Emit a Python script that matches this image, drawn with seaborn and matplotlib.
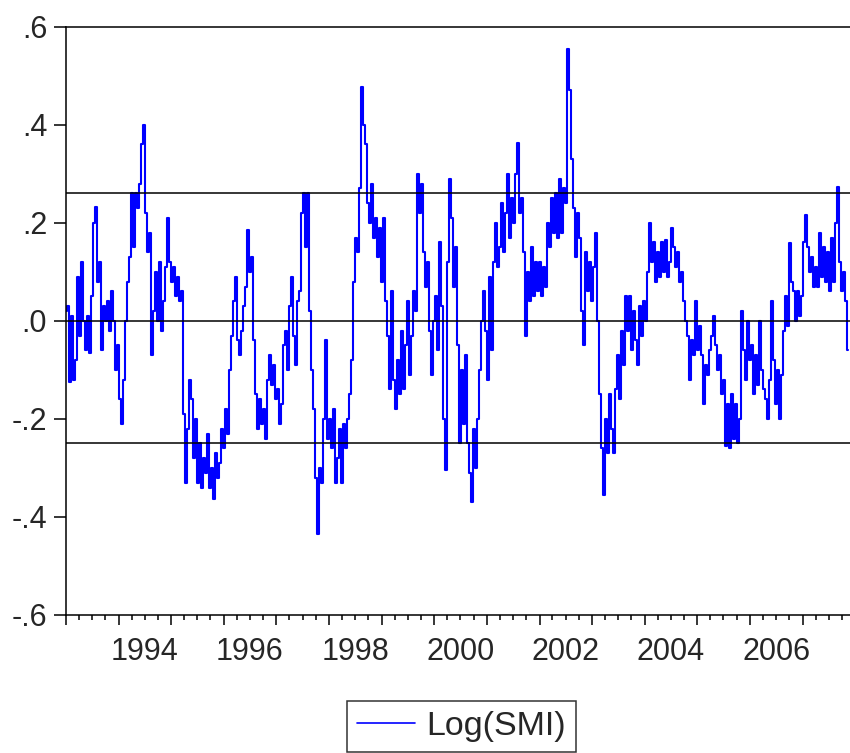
import numpy as np
import pandas as pd
import matplotlib
matplotlib.use("Agg")
import matplotlib.pyplot as plt
import matplotlib.dates as mdates
from matplotlib.ticker import NullFormatter
import seaborn as sns

# Log(SMI) readings, evenly spaced through the sample, split by period
log_smi_1993_94 = [0.02, 0.03, -0.125, 0.01, -0.12, -0.08, 0.09, -0.03, 0.12, 0.0,
                   -0.06, 0.01, -0.065, 0.05, 0.20, 0.233, 0.08, 0.12, -0.06, 0.03,
                   0.0, 0.04, -0.02, 0.06, 0.0, -0.10, -0.05, -0.16, -0.21, -0.12,
                   0.0, 0.08, 0.13, 0.26, 0.15, 0.26, 0.23, 0.28, 0.36, 0.40]
log_smi_1994_96 = [0.22, 0.14, 0.18, -0.07, 0.02, 0.10, 0.0, 0.12, -0.02, 0.04,
                   0.11, 0.21, 0.12, 0.08, 0.11, 0.05, 0.09, 0.04, 0.06, -0.19,
                   -0.33, -0.22, -0.12, -0.16, -0.28, -0.20, -0.33, -0.25, -0.34, -0.28,
                   -0.31, -0.23, -0.34, -0.30, -0.364, -0.27, -0.32, -0.29, -0.22, -0.26]
log_smi_1996_97 = [-0.18, -0.23, -0.10, -0.03, 0.04, 0.09, -0.04, -0.07, -0.02, 0.03,
                   0.07, 0.185, 0.10, 0.13, -0.04, -0.15, -0.22, -0.16, -0.21, -0.18,
                   -0.24, -0.12, -0.07, -0.13, -0.09, -0.16, -0.14, -0.21, -0.17, -0.05,
                   -0.02, -0.10, 0.03, 0.09, -0.03, -0.09, 0.04, 0.06, 0.22, 0.26]
log_smi_1997_99 = [0.15, 0.26, 0.02, -0.10, -0.18, -0.32, -0.434, -0.30, -0.33, -0.20,
                   -0.04, -0.24, -0.20, -0.26, -0.18, -0.33, -0.28, -0.22, -0.33, -0.21,
                   -0.26, -0.20, -0.15, -0.08, 0.08, 0.17, 0.14, 0.27, 0.478, 0.40,
                   0.36, 0.24, 0.20, 0.28, 0.17, 0.21, 0.13, 0.19, 0.08, 0.21]
log_smi_1999_00 = [0.04, -0.03, -0.14, 0.06, -0.12, -0.18, -0.08, -0.15, -0.02, -0.14,
                   -0.05, 0.04, -0.11, -0.03, 0.06, 0.02, 0.30, 0.22, 0.28, 0.14,
                   0.07, 0.12, -0.02, -0.11, 0.0, 0.05, -0.06, 0.16, 0.03, -0.20,
                   -0.305, 0.12, 0.29, 0.21, 0.07, 0.15, -0.05, -0.25, -0.10, -0.21]
log_smi_2000_02 = [-0.07, -0.25, -0.31, -0.37, -0.22, -0.30, -0.20, -0.10, 0.0, 0.06,
                   -0.02, -0.12, 0.09, -0.06, 0.12, 0.20, 0.11, 0.15, 0.24, 0.14,
                   0.22, 0.30, 0.17, 0.25, 0.20, 0.30, 0.362, 0.22, 0.25, 0.14,
                   -0.03, 0.10, 0.04, 0.15, 0.05, 0.12, 0.06, 0.12, 0.05, 0.11]
log_smi_2002_03 = [0.07, 0.20, 0.15, 0.25, 0.18, 0.26, 0.17, 0.29, 0.18, 0.27,
                   0.24, 0.554, 0.47, 0.33, 0.23, 0.13, 0.22, 0.17, 0.02, -0.05,
                   0.14, 0.06, 0.12, 0.04, 0.11, 0.18, 0.0, -0.15, -0.26, -0.356,
                   -0.20, -0.27, -0.15, -0.22, -0.27, -0.14, -0.07, -0.16, -0.02, -0.09]
log_smi_2003_05 = [0.05, -0.02, 0.05, -0.06, 0.02, -0.04, -0.09, 0.03, -0.03, 0.04,
                   0.0, 0.10, 0.20, 0.12, 0.16, 0.08, 0.14, 0.09, 0.16, 0.10,
                   0.165, 0.09, 0.12, 0.19, 0.15, 0.11, 0.14, 0.08, 0.10, 0.04,
                   0.0, -0.03, -0.12, -0.04, -0.07, 0.04, -0.06, -0.01, -0.07, -0.17]
log_smi_2005_06 = [-0.09, -0.11, -0.06, -0.03, 0.01, -0.05, -0.10, -0.07, -0.15, -0.12,
                   -0.255, -0.17, -0.26, -0.15, -0.24, -0.17, -0.25, -0.20, 0.02, -0.06,
                   -0.12, 0.0, -0.08, -0.05, -0.15, -0.07, -0.13, 0.0, -0.10, -0.14,
                   -0.16, -0.20, -0.12, 0.04, -0.08, -0.17, -0.10, -0.20, -0.11, -0.02]
log_smi_2006_07 = [0.05, -0.01, 0.158, 0.08, 0.06, 0.0, 0.06, 0.01, 0.05, 0.16,
                   0.215, 0.15, 0.10, 0.13, 0.07, 0.11, 0.07, 0.18, 0.09, 0.15,
                   0.08, 0.14, 0.06, 0.17, 0.08, 0.20, 0.273, 0.12, 0.06, 0.10, 0.04, -0.06]

series_label = "Log(SMI)"
sample_start, sample_end = "1993-01-04", "2007-11-15"
axis_start, axis_end = "1993-01-01", "2007-12-10"
reference_levels = [0.26, 0.0, -0.25]
y_ticks = [-0.6, -0.4, -0.2, 0.0, 0.2, 0.4, 0.6]
y_tick_labels = ["-.6", "-.4", "-.2", ".0", ".2", ".4", ".6"]
label_years = [1994, 1996, 1998, 2000, 2002, 2004, 2006]

log_smi = (log_smi_1993_94 + log_smi_1994_96 + log_smi_1996_97 + log_smi_1997_99
           + log_smi_1999_00 + log_smi_2000_02 + log_smi_2002_03 + log_smi_2003_05
           + log_smi_2005_06 + log_smi_2006_07)
df = pd.DataFrame({
    "date": pd.date_range(sample_start, sample_end, periods=len(log_smi)),
    "value": log_smi,
})

sns.set_theme(style="white")
plt.rcParams["font.family"] = ["Liberation Sans", "DejaVu Sans"]
text_color = "#262626"

W, H = 850, 753
fig = plt.figure(figsize=(W / 100, H / 100), dpi=100)
fig.patch.set_facecolor("white")
ax = fig.add_axes([66 / W, (H - 615) / H, (852 - 66) / W, (615 - 26.7) / H])
ax.set_facecolor("white")

sns.lineplot(data=df, x="date", y="value", ax=ax, color="#0000ff",
             linewidth=1.5, drawstyle="steps-mid", label=series_label, legend=False)
series_handle = ax.get_lines()[0]

for level in reference_levels:
    ax.axhline(level, color="black", linewidth=1.1, zorder=3)

ax.set_xlim(pd.Timestamp(axis_start), pd.Timestamp(axis_end))
ax.set_ylim(-0.6, 0.6)
ax.set_xlabel("")
ax.set_ylabel("")

for side in ["left", "bottom", "top", "right"]:
    ax.spines[side].set_visible(True)
    ax.spines[side].set_color("black")
    ax.spines[side].set_linewidth(1.1)

ax.set_yticks(y_ticks)
ax.set_yticklabels(y_tick_labels)
ax.tick_params(axis="y", which="major", direction="out", length=8.5, width=1.1,
               color="black", labelsize=22, pad=5, labelcolor=text_color, left=True)

ax.xaxis.set_major_locator(mdates.YearLocator(1))
ax.xaxis.set_minor_locator(mdates.MonthLocator(bymonth=[4, 7, 10]))
ax.xaxis.set_major_formatter(NullFormatter())
ax.xaxis.set_minor_formatter(NullFormatter())
ax.tick_params(axis="x", which="major", direction="out", length=7.5, width=1.1,
               color="black", bottom=True, labelbottom=False)
ax.tick_params(axis="x", which="minor", direction="out", length=3.5, width=1.1,
               color="black", bottom=True)

# Year labels sit in the middle of each labelled year
secax = ax.secondary_xaxis("bottom")
secax.set_xticks([mdates.date2num(pd.Timestamp(f"{y}-07-01")) for y in label_years])
secax.set_xticklabels([str(y) for y in label_years])
secax.tick_params(axis="x", length=0, pad=16, labelsize=22, labelcolor=text_color)
secax.spines["bottom"].set_visible(False)

leg = fig.legend(handles=[series_handle], labels=[series_label],
                 loc="upper center", bbox_to_anchor=(461.5 / W, 1 - 701 / H),
                 frameon=True, fancybox=False, edgecolor="black", fontsize=24.5,
                 handlelength=1.7, borderpad=0.3, handletextpad=0.35,
                 borderaxespad=0)
leg.get_frame().set_linewidth(1.1)
for txt in leg.get_texts():
    txt.set_color(text_color)
leg.get_lines()[0].set_linewidth(1.2)
leg.get_lines()[0].set_drawstyle("default")

fig.savefig("out.png", dpi=100, facecolor="white")
